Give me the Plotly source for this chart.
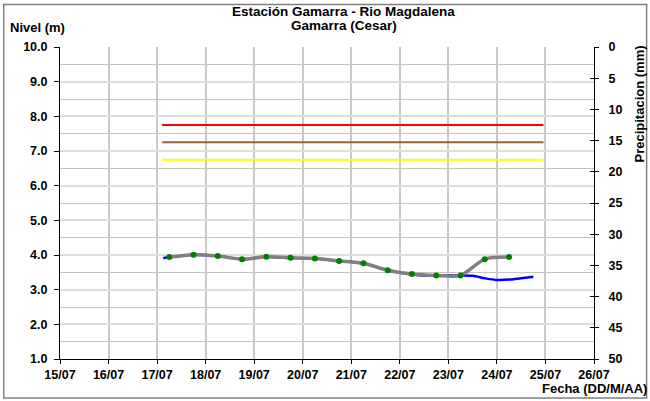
import plotly.graph_objects as go

# ---- data ----
obs_times = ["2024-07-17 06:00", "2024-07-17 18:00", "2024-07-18 06:00", "2024-07-18 18:00",
             "2024-07-19 06:00", "2024-07-19 18:00", "2024-07-20 06:00", "2024-07-20 18:00",
             "2024-07-21 06:00", "2024-07-21 18:00", "2024-07-22 06:00", "2024-07-22 18:00",
             "2024-07-23 06:00", "2024-07-23 18:00", "2024-07-24 06:00"]
obs_levels = [3.94, 4.01, 3.97, 3.88, 3.95, 3.92, 3.90, 3.83, 3.76, 3.56, 3.45, 3.41, 3.41, 3.88, 3.94]

auto_times = ["2024-07-17 03:00", "2024-07-17 06:00", "2024-07-17 18:00", "2024-07-18 06:00",
              "2024-07-18 18:00", "2024-07-19 06:00", "2024-07-19 18:00", "2024-07-20 06:00",
              "2024-07-20 18:00", "2024-07-21 06:00", "2024-07-21 18:00", "2024-07-22 06:00",
              "2024-07-22 18:00", "2024-07-23 06:00", "2024-07-23 12:00", "2024-07-23 18:00",
              "2024-07-24 00:00", "2024-07-24 06:00", "2024-07-24 12:00", "2024-07-24 18:00"]
auto_levels = [3.91, 3.94, 4.01, 3.97, 3.88, 3.95, 3.91, 3.90, 3.83, 3.76, 3.55, 3.44,
               3.40, 3.41, 3.40, 3.33, 3.28, 3.29, 3.33, 3.37]

threshold_span = ["2024-07-17 02:30", "2024-07-24 23:00"]
threshold_red = 7.75
threshold_brown = 7.25
threshold_yellow = 6.75

x_range = ["2024-07-15", "2024-07-26"]
level_ticks = [1, 2, 3, 4, 5, 6, 7, 8, 9, 10]
precip_ticks = [0, 5, 10, 15, 20, 25, 30, 35, 40, 45, 50]

FONT = "Liberation Sans, Arial, sans-serif"

fig = go.Figure()

for val, col in [(threshold_red, "#FF0000"), (threshold_brown, "#996633"), (threshold_yellow, "#FFFF00")]:
    fig.add_trace(go.Scatter(x=threshold_span, y=[val, val], mode="lines",
                             line=dict(color=col, width=2), hoverinfo="skip", showlegend=False))

fig.add_trace(go.Scatter(x=auto_times, y=auto_levels, mode="lines",
                         line=dict(color="#0000FF", width=2.5, shape="spline", smoothing=0.8),
                         showlegend=False))
fig.add_trace(go.Scatter(x=obs_times, y=obs_levels, mode="lines+markers",
                         line=dict(color="#808080", width=3.5, shape="spline", smoothing=0.8),
                         marker=dict(color="#008000", size=6),
                         showlegend=False))

# dummy traces for right axes
fig.add_trace(go.Scatter(x=[x_range[0]], y=[0], yaxis="y2", mode="markers",
                         marker=dict(opacity=0), hoverinfo="skip", showlegend=False))
fig.add_trace(go.Scatter(x=[x_range[0]], y=[0], yaxis="y3", mode="markers",
                         marker=dict(opacity=0), hoverinfo="skip", showlegend=False))

tickfont = dict(family=FONT, size=12.5, color="black", weight="bold")
labfont = dict(family=FONT, size=13, color="black", weight="bold")
titlefont = dict(family=FONT, size=13.5, color="black", weight="bold")

fig.update_layout(
    width=650, height=401,
    margin=dict(l=60.3, r=55.7, t=46.7, b=41.7, autoexpand=False),
    paper_bgcolor="white", plot_bgcolor="white",
    xaxis=dict(type="date", range=x_range, dtick=86400000, tick0="2024-07-15",
               tickformat="%d/%m", showgrid=True, gridcolor="#c8c8c8", gridwidth=1.5,
               showline=True, linecolor="black", linewidth=1, automargin=False,
               ticks="outside", ticklen=4, tickcolor="black", tickfont=tickfont, zeroline=False),
    yaxis=dict(range=[1, 10], tickvals=level_ticks, tickformat=".1f",
               showgrid=True, gridcolor="#dcdcdc", gridwidth=2, automargin=False,
               minor=dict(dtick=0.5, tick0=1, showgrid=True, gridcolor="#c4c4c4", gridwidth=1, ticks=""),
               showline=True, linecolor="black", linewidth=1, ticklabelstandoff=4,
               ticks="outside", ticklen=5, tickcolor="black", tickfont=tickfont, zeroline=False),
    yaxis2=dict(range=[50, 0], tickvals=precip_ticks, overlaying="y", side="right",
                showgrid=False, zeroline=False, showline=True, linecolor="black", linewidth=1,
                ticks="outside", ticklen=4, tickcolor="black", tickfont=tickfont,
                ticklabelstandoff=7, automargin=False),
    yaxis3=dict(range=[50, 0], tickvals=precip_ticks, overlaying="y", side="right",
                showgrid=False, zeroline=False, showline=False, automargin=False,
                ticks="inside", ticklen=4, tickcolor="black", showticklabels=False),
    shapes=[dict(type="rect", xref="paper", yref="paper",
                 x0=-0.1054, x1=1.0985, y0=-0.1254, y1=1.1366,
                 line=dict(color="#808080", width=1.5), fillcolor="rgba(0,0,0,0)", layer="below")],
    annotations=[
        dict(text="Estación Gamarra - Rio Magdalena", x=0.531, y=1.114, xref="paper", yref="paper",
             showarrow=False, xanchor="center", yanchor="middle", font=titlefont),
        dict(text="Gamarra (Cesar)", x=0.531, y=1.07, xref="paper", yref="paper",
             showarrow=False, xanchor="center", yanchor="middle", font=titlefont),
        dict(text="Nivel (m)", x=-0.098, y=1.0627, xref="paper", yref="paper",
             showarrow=False, xanchor="left", yanchor="middle", font=labfont),
        dict(text="Fecha (DD/M/AA)", x=1.1024, y=-0.095, xref="paper", yref="paper",
             showarrow=False, xanchor="right", yanchor="middle", font=labfont),
        dict(text="Precipitacion (mm)", x=1.0856, y=0.818, xref="paper", yref="paper",
             showarrow=False, xanchor="center", yanchor="middle", textangle=-90, font=labfont),
    ],
)

fig.write_html("out.html", config={"displayModeBar": False},
               post_script="document.body.style.margin='0';")
